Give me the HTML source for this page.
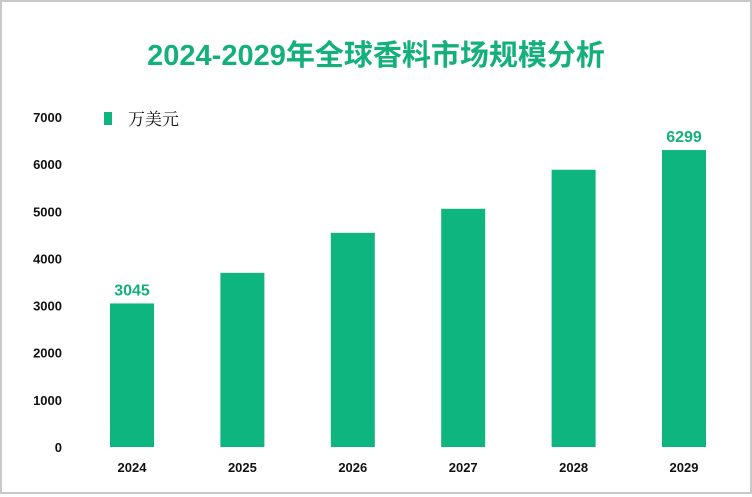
<!DOCTYPE html>
<html><head><meta charset="utf-8"><style>
body{margin:0;background:#fff}
#wrap{position:relative;width:752px;height:494px;box-sizing:border-box;border:2px solid #c8c8c8;background:#fff;font-family:"Liberation Sans","Noto Sans CJK SC",sans-serif}
</style></head><body>
<div id="wrap">
<svg id="chart" width="748" height="490"></svg>
</div>
<script>
const categories=["2024","2025","2026","2027","2028","2029"];
const values=[3045,3694,4543,5053,5881,6299];
const yTicks=[0,1000,2000,3000,4000,5000,6000,7000];
const labeled=[0,5];
const ns="http://www.w3.org/2000/svg";
const svg=document.getElementById('chart');
const ox=-2,oy=-2;
function y(v){return 447-v*(330/7000)+oy;}
function x(i){return 110+i*110.4+ox;}
function mk(t,a,txt){const e=document.createElementNS(ns,t);for(const k in a)e.setAttribute(k,a[k]);if(txt!=null)e.textContent=txt;svg.appendChild(e);return e;}
let t=mk('text',{x:374,y:63,'text-anchor':'middle','font-size':29,'font-weight':'bold',fill:'#14b07c','font-family':'"Liberation Sans","Noto Sans CJK SC",sans-serif'},'2024-2029年全球香料市场规模分析');


let lg=mk('rect',{x:104+ox,y:112+oy,width:8,height:13,fill:'#0fb57f'});


let lt=mk('text',{x:128+ox,y:125+oy,'font-size':17,fill:'#111','font-family':'"Liberation Serif","Noto Serif CJK SC",serif'},'万美元');


yTicks.forEach(v=>{
 const e=mk('text',{x:62+ox,y:y(v)+5,'text-anchor':'end','font-size':13,'font-weight':'bold',fill:'#111'},String(v));
 
 
});
categories.forEach((c,i)=>{
 const b=mk('rect',{x:x(i),y:y(values[i]),width:44,height:y(0)-y(values[i]),fill:'#0fb57f'});
 
 
 const l=mk('text',{x:x(i)+22,y:472+oy,'text-anchor':'middle','font-size':13,'font-weight':'bold',fill:'#111'},c);
 
 
 if(labeled.includes(i)){
  const v=mk('text',{x:x(i)+22,y:y(values[i])-8,'text-anchor':'middle','font-size':16,'font-weight':'bold',fill:'#14b07c'},String(values[i]));
  
  
 }
});
</script>
</body></html>
